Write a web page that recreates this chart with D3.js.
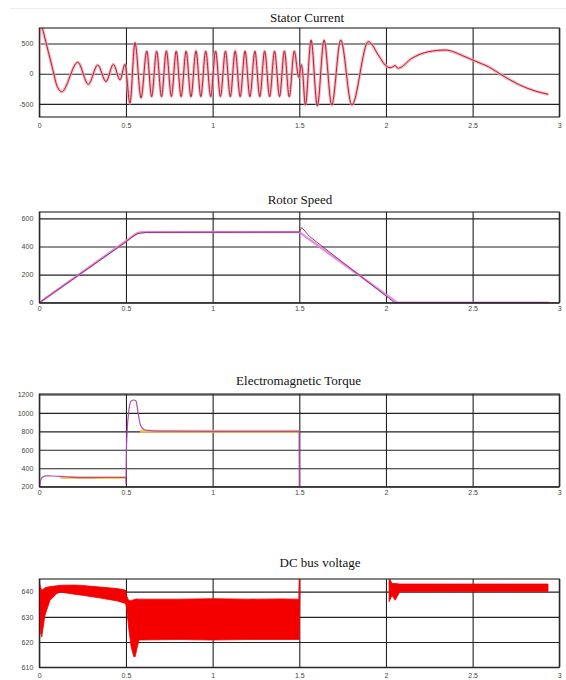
<!DOCTYPE html>
<html>
<head>
<meta charset="utf-8">
<script src="https://cdn.jsdelivr.net/npm/d3@7"></script>
<style>body{margin:0;background:#fff}</style>
</head>
<body>
<div id="chart"></div>
<script>
// shared time axis
var xTicks = [0, 0.5, 1, 1.5, 2, 2.5, 3];

// stator current (extrema)
var curT = [0, 0.003, 0.013, 0.023, 0.052, 0.081, 0.1, 0.129, 0.222, 0.283, 0.337, 0.385, 0.427, 0.466, 0.494, 0.523, 0.552, 0.587,
  0.620, 0.648, 0.677, 0.705, 0.733, 0.762, 0.790, 0.818, 0.847, 0.875, 0.904, 0.932, 0.960, 0.989, 1.017, 1.045,
  1.074, 1.102, 1.130, 1.159, 1.187, 1.215, 1.244, 1.272, 1.300, 1.329, 1.357, 1.386, 1.414, 1.442, 1.471,
  1.497, 1.512, 1.518, 1.535, 1.568, 1.604, 1.643, 1.687, 1.739, 1.803, 1.898, 1.96, 1.995, 2.024, 2.04, 2.052, 2.07,
  2.149, 2.245, 2.341, 2.456, 2.514, 2.591, 2.668, 2.764, 2.86, 2.937];
var curV = [90, 780, 800, 695, 364, 33, -187, -298, 189, -176, 144, -132, 156, -104, 156, -490, 515, -400,
  376, -380, 372, -382, 378, -378, 375, -380, 373, -383, 377, -379, 374, -381, 376, -378,
  373, -382, 377, -380, 375, -379, 372, -381, 376, -380, 374, -378, 377, -382, 375,
  -60, 150, 60, -518, 558, -535, 558, -520, 558, -518, 530, 290, 144, 100, 115, 135, 90,
  255, 364, 392, 282, 210, 116, -22, -176, -286, -341];

// rotor speed: reference and measured
var speedRefT = [0, 0.565, 0.59, 1.5, 2.065, 2.94];
var speedRefV = [0, 495, 502, 502, 0, 0];
var speedT = [0, 0.5, 0.54, 0.57, 0.62, 1.5, 1.514, 1.56, 2.05, 2.94];
var speedV = [0, 432, 472, 492, 500, 502, 535, 470, 0, 0];

// electromagnetic torque: measured and reference
var torqueT = [0, 0.008, 0.02, 0.04, 0.08, 0.15, 0.25, 0.35, 0.499, 0.5, 0.503, 0.515, 0.53, 0.545, 0.558, 0.57, 0.585, 0.61, 0.7, 1.0, 1.3, 1.499, 1.5];
var torqueV = [150, 270, 305, 318, 316, 308, 298, 300, 300, 230, 620, 1000, 1130, 1140, 1130, 1000, 860, 815, 802, 800, 800, 800, 150];
var torqueRefT = [0.12, 0.5, 0.5, 0.58, 1.5];
var torqueRefV = [300, 300, null, 800, 800];

// dc bus voltage ripple envelope (null = no trace)
var dcT  = [0, 0.006, 0.014, 0.033, 0.062, 0.1, 0.12, 0.2, 0.254, 0.35, 0.45, 0.497, 0.503, 0.515, 0.53, 0.545, 0.553, 0.562, 0.575, 0.8, 1.0, 1.2, 1.4, 1.497, 1.499, 1.503, 1.76, 2.018, 2.022, 2.035, 2.053, 2.08, 2.4, 2.7, 2.935];
var dcHi = [644, 642, 640.5, 641.5, 642, 642.3, 642.5, 642.6, 642.4, 641.8, 641.2, 640.6, 638.5, 636.6, 636.4, 636.8, 637, 637.1, 637, 637, 637.2, 637, 637.1, 637, 645, 645, null, 645, 645, 643.2, 643.2, 643, 643, 643, 643];
var dcLo = [636, 624, 622, 630.7, 636.6, 639.2, 639.8, 639, 638.5, 637.5, 636.3, 635.3, 634, 626, 618, 614.2, 614.2, 617, 620.8, 621, 620.8, 621, 621, 621, 621, 637, null, 636, 636.6, 638.5, 636.6, 639.9, 640, 640, 640];

var panels = [
  {title: 'Stator Current', tx: 307, ty: 22, top: 28, bottom: 117, domain: [-717, 757], ticks: [-500, 0, 500], xpad: 6.5},
  {title: 'Rotor Speed', tx: 300, ty: 204, top: 212, bottom: 302.7, domain: [0, 645], ticks: [0, 200, 400, 600], xpad: 3.5},
  {title: 'Electromagnetic Torque', tx: 298.5, ty: 385, top: 394, bottom: 486.7, domain: [200, 1205], ticks: [200, 400, 600, 800, 1000, 1200], xpad: 3},
  {title: 'DC bus voltage', tx: 320, ty: 566.5, top: 579, bottom: 667.3, domain: [610, 645], ticks: [610, 620, 630, 640], xpad: 6}
];

var left = 39.3, right = 559.3;

var svg = d3.select('#chart')
            .append('svg')
            .attr('width', 566)
            .attr('height', 680)
            .style('display', 'block');

// faint page edge at the top
svg.append('line')
   .attr('x1', 10).attr('x2', 566)
   .attr('y1', 8.5).attr('y2', 8.5)
   .attr('stroke', '#ececec');

var x = d3.scaleLinear().domain([0, 3]).range([left, right]);

function zip(ts, vs) {
  return ts.map(function(t, i) { return {t: t, v: vs[i]}; });
}

function drawPanel(p, i) {
  var y = d3.scaleLinear().domain(p.domain).range([p.bottom, p.top]);
  var g = svg.append('g');

  g.append('text')
   .attr('x', p.tx)
   .attr('y', p.ty)
   .attr('text-anchor', 'middle')
   .style('font-family', '"Liberation Serif", "Times New Roman", serif')
   .style('font-size', '13px')
   .attr('fill', '#111')
   .text(p.title);

  svg.append('clipPath').attr('id', 'clip' + i)
     .append('rect')
     .attr('x', left).attr('y', p.top)
     .attr('width', right - left).attr('height', p.bottom - p.top);

  var ya = g.append('g')
            .attr('transform', 'translate(' + left + ',0)')
            .call(d3.axisLeft(y).tickValues(p.ticks).tickSize(-(right - left)).tickPadding(6).tickFormat(function(d) { return String(d); }));
  var xa = g.append('g')
            .attr('transform', 'translate(0,' + p.bottom + ')')
            .call(d3.axisBottom(x).tickValues(xTicks).tickSize(-(p.bottom - p.top)).tickPadding(p.xpad).tickFormat(function(d) { return String(d); }));

  [ya, xa].forEach(function(a) {
    a.select('.domain').remove();
    a.selectAll('line').attr('stroke', '#222').attr('stroke-width', 1.1);
    a.selectAll('text')
     .attr('fill', '#444')
     .style('font-family', 'Arial, "Liberation Sans", sans-serif')
     .style('font-size', '7px');
  });

  var plot = g.append('g').attr('clip-path', 'url(#clip' + i + ')');

  g.append('rect')
   .attr('x', left).attr('y', p.top)
   .attr('width', right - left).attr('height', p.bottom - p.top)
   .attr('fill', 'none')
   .attr('stroke', '#222')
   .attr('stroke-width', 1.1);

  return {y: y, plot: plot};
}

var P = panels.map(drawPanel);

// stator current
var cur = zip(curT, curV);
var curLine = d3.line().x(function(d) { return x(d.t); }).y(function(d) { return P[0].y(d.v); }).curve(d3.curveMonotoneX);
P[0].plot.append('path').attr('d', curLine(cur)).attr('fill', 'none').attr('stroke', '#f4a3ab').attr('stroke-width', 3.2).attr('stroke-opacity', 0.75);
P[0].plot.append('path').attr('d', curLine(cur)).attr('fill', 'none').attr('stroke', '#a8243a').attr('stroke-width', 1);

// rotor speed
var speedLine = d3.line().x(function(d) { return x(d.t); }).y(function(d) { return P[1].y(d.v); });
P[1].plot.append('path').attr('d', speedLine(zip(speedRefT, speedRefV))).attr('fill', 'none').attr('stroke', '#e27ee6').attr('stroke-width', 2.4).attr('stroke-opacity', 0.9);
P[1].plot.append('path').attr('d', speedLine(zip(speedT, speedV))).attr('fill', 'none').attr('stroke', '#8b2a4a').attr('stroke-width', 0.9);

// torque
var torqueLine = d3.line().defined(function(d) { return d.v != null; }).x(function(d) { return x(d.t); }).y(function(d) { return P[2].y(d.v); });
P[2].plot.append('path').attr('d', torqueLine(zip(torqueRefT, torqueRefV))).attr('fill', 'none').attr('stroke', '#f8c44e').attr('stroke-width', 3).attr('stroke-opacity', 0.9);
P[2].plot.append('path').attr('d', torqueLine.curve(d3.curveMonotoneX)(zip(torqueT, torqueV))).attr('fill', 'none').attr('stroke', '#b04ab0').attr('stroke-width', 1.2);

// dc bus voltage band
var dc = dcT.map(function(t, i) { return {t: t, hi: dcHi[i], lo: dcLo[i]}; });
var dcArea = d3.area()
               .defined(function(d) { return d.hi != null; })
               .x(function(d) { return x(d.t); })
               .y0(function(d) { return P[3].y(d.lo); })
               .y1(function(d) { return P[3].y(d.hi); });
P[3].plot.append('path').attr('d', dcArea(dc)).attr('fill', '#f50000').attr('stroke', '#f50000').attr('stroke-width', 0.8);
</script>
</body>
</html>
